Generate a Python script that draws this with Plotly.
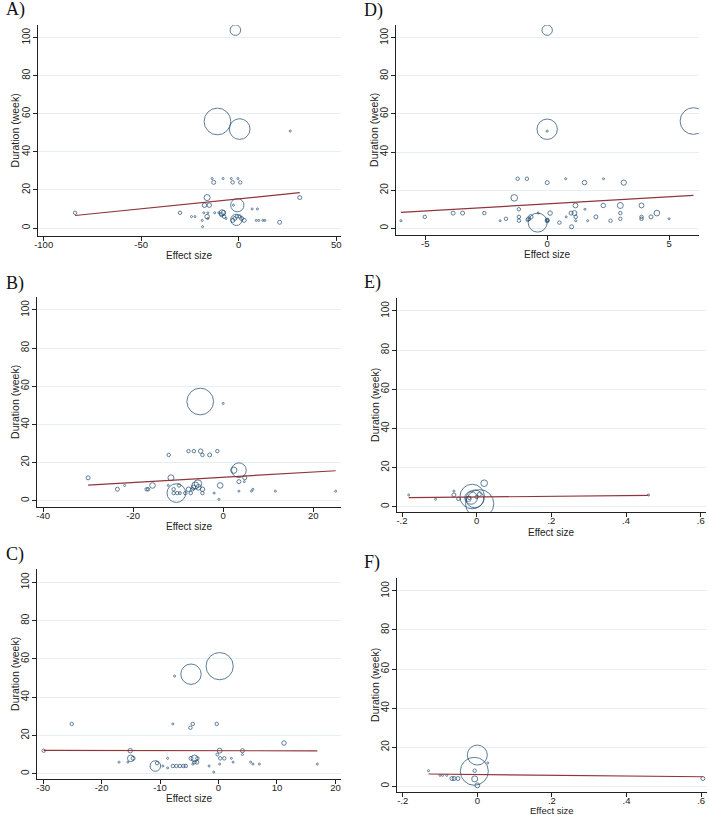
import numpy as np
import plotly.graph_objects as go

# ---------------- data ----------------
# Panel A
a_x = [-1.7, -10.9, 0.5, 26.4, -13.6, -8.0, -3.8, -0.4, -12.8, -3.1, 0.8, -16.2, 31.3,
       -17.5, -15.1, -2.7, -0.7, 6.9, 9.6, -83.9, -30.1, -17.9, -15.8, -12.3, -10.2,
       -8.5, -7.8, -8.8, -7.5, -6.5, -16.2, -24.2, -22.4, -18.7, -18.5, -15.8,
       -3.0, -2.0, 1.5, 2.8, -1.0, 0.5, -1.2, 9.0, 10.3, 12.4, 13.4, 21.0]
a_y = [104, 56, 52, 51, 26, 26, 26, 26, 24, 24, 24, 16, 16,
       12, 12, 12, 12, 10, 10, 8, 8, 8, 8, 8, 8,
       8, 8, 7, 6, 5, 6, 6, 6, 4, 0.7, 5,
       4, 5, 5, 4, 6, 6, 4.3, 4, 4, 4, 4, 3]
a_w = [28, 178, 107, 1, 1, 1, 1, 1, 4, 3, 3, 9, 4,
       5, 5, 1, 44, 1, 1, 3, 3, 1, 1, 1, 1,
       9, 5, 4, 3, 1, 5, 1, 1, 1, 1, 1,
       4, 4, 4, 4, 3, 3, 32, 1, 1, 1, 1, 4]
a_fit = [15.3, 0.104]          # intercept, slope

# Panel D
d_x = [0.0, 0.0, 0.0, 6.0, -6.0, -5.02, -3.86, -3.47, -2.58, -1.93, -1.69, -1.21, -0.83,
       -1.35, -1.16, -1.16, -1.16, -0.76, -0.67, -0.8, -0.39, -0.37, 0.0, 0.0, 0.0, 0.02,
       0.12, 0.5, 0.76, 0.78, 0.98, 1.12, 1.0, 1.16, 1.17, 1.17, 1.53, 1.55, 1.66, 2.0,
       2.31, 2.3, 2.6, 3.0, 3.14, 3.0, 3.0, 3.87, 3.87, 3.87, 4.26, 4.5, 5.0]
d_y = [104, 52, 51, 56.3, 4, 6, 8, 8, 8, 4, 5, 26, 26,
       16, 10, 6, 4, 5, 6, 4.5, 3, 8, 24, 4, 4.5, 4,
       8, 3, 26, 6, 8, 8, 0.8, 12, 6, 4, 24, 10, 4, 6,
       26, 12, 4, 12, 24, 8, 5, 12, 6, 5, 6, 8, 5]
d_w = [27, 104, 1, 178, 1, 3, 4, 4, 3, 1, 3, 3, 3,
       11, 3, 3, 3, 4, 5, 3, 90, 1, 4, 4, 3, 2,
       5, 3, 1, 1, 4, 6, 4, 6, 3, 1, 5, 1, 1, 4,
       1, 5, 3, 9, 7, 3, 3, 6, 3, 3, 4, 8, 1]
d_fit = [12.84, 0.744]

# Panel B
b_x = [-5.1, 0.0, -30.0, -23.5, -21.9, -17.0, -16.7, -15.7, -12.1, -12.2, -11.6, -11.0,
       -11.0, -10.2, -9.6, -9.8, -10.4, -7.7, -6.5, -5.0, -4.6, -3.0, -1.3,
       -7.7, -8.4, -7.2, -6.8, -6.2, -5.6, -5.5, -6.6, -4.6, -4.6, -2.0, -0.66, -0.95,
       2.36, 3.5, 3.5, 4.8, 4.7, 3.5, 6.3, 6.6, 11.6, 25.0]
b_y = [52, 51, 12, 6, 8, 6, 6, 8, 24, 8, 12, 6,
       4, 4, 4, 8, 4, 26, 26, 26, 24, 24, 26,
       6, 4, 4, 6, 8, 9, 7, 7, 6, 4, 4, 8, 0.7,
       16, 16, 10, 12, 10, 5, 5, 6, 5, 5]
b_w = [178, 1, 4, 4, 1, 3, 3, 8, 3, 1, 9, 3,
       3, 3, 2, 3, 87, 3, 3, 5, 3, 4, 3,
       5, 3, 3, 3, 12, 14, 8, 5, 5, 3, 1, 8, 1,
       10, 54, 4, 4, 1, 1, 1, 1, 1, 1]
b_fit = [12.3, 0.136]

# Panel C
c_x = [0.2, -4.7, -7.5, -29.9, -25.1, -17.0, -15.5, -15.1, -15.0, -14.6, -10.8, -10.5,
       -9.5, -8.7, -8.7, -7.8, -7.8, -7.2, -6.6, -6.0, -5.6, -4.8, -4.4, -4.7, -4.1,
       -4.4, -4.1, -3.7, -3.6, -1.6, -0.8, -0.3, -0.2, 0.2, 0.2, 0.3, 1.0, 2.2, 2.5,
       4.1, 4.1, 5.5, 5.9, 7.0, 11.2, 16.9]
c_y = [56.2, 52, 51, 12, 26, 6, 6, 12, 8, 8, 4, 5.5,
       4, 8, 3, 26, 4, 4, 4, 4, 4, 24, 26, 8, 8,
       5, 6, 6, 8, 4, 0.8, 26, 10, 12, 5, 8, 8, 8, 6,
       12, 10, 6, 5, 5, 16, 5]
c_w = [185, 104, 1, 3, 3, 1, 1, 5, 11, 4, 28, 3,
       1, 1, 1, 1, 3, 3, 3, 3, 3, 3, 3, 4, 11,
       1, 3, 4, 3, 1, 1, 3, 2, 6, 1, 3, 3, 1, 1,
       4, 1, 1, 1, 1, 5, 1]
c_fit = [12.0, -0.004]

# Panel E
e_x = [-0.182, -0.11, -0.061, -0.061, -0.049, -0.022, -0.02, -0.012, 0.008, -0.005,
       -0.015, 0.02, 0.007, 0.0, 0.46]
e_y = [6, 3.8, 8, 6, 4, 4, 4.5, 5.2, 1.5, 4.0, 4.5, 12, 6.3, 5, 6]
e_w = [1, 1, 1, 4, 3, 7, 3, 150, 200, 80, 40, 11, 4, 3, 1]
e_fit = [4.94, 1.875]

# Panel F
f_x = [0.0, -0.008, 0.028, -0.007, -0.007, 0.0, -0.068, -0.062, -0.052, -0.131,
       -0.10, -0.093, -0.082, 0.605]
f_y = [16, 7.7, 12, 8, 3.8, 0.5, 4, 4, 4, 8, 5.6, 5.6, 5.6, 4]
f_w = [100, 196, 1, 3, 9, 6, 4, 4, 4, 1, 1, 1, 1, 4]
f_fit = [6.05, -1.9]

ab_ticks = {"A": [-100, -50, 0, 50], "D": [-5, 0, 5], "B": [-40, -20, 0, 20],
            "C": [-30, -20, -10, 0, 10, 20], "E": [-0.2, 0, 0.2, 0.4, 0.6],
            "F": [-0.2, 0, 0.2, 0.4, 0.6]}
small_tick_text = ["-.2", "0", ".2", ".4", ".6"]
y_ticks = [0, 20, 40, 60, 80, 100]

# ---------------- layout constants ----------------
W, H = 709, 815
# plot-area boxes in pixels: left, right, top, bottom
boxes = {"A": (34, 339, 25, 236), "D": (394, 699, 25, 235),
         "B": (33, 339, 297, 507), "E": (395, 706, 298, 512),
         "C": (33, 339, 569, 779), "F": (395, 707, 578, 792)}
xranges = {"A": [-103, 52.5], "D": [-6.21, 6.23], "B": [-41.4, 26.2],
           "C": [-31.07, 20.97], "E": [-0.214, 0.614], "F": [-0.216, 0.616]}
yranges = {"A": [-4.2, 106.7], "D": [-3.5, 106.7], "B": [-3.3, 106.8],
           "C": [-2.8, 107.0], "E": [-2.7, 106.6], "F": [-2.9, 106.6]}
label_pos = {"A": (0, 9), "D": (360, 10), "B": (0, 283), "E": (360, 282),
             "C": (0, 554), "F": (360, 562)}
xtitle_gap = {"A": 19.5, "D": 20, "B": 19.5, "E": 20, "C": 19.5, "F": 18.5}

NAVY = "#1a476f"
MAROON = "#90353b"
FONT = "Liberation Sans Narrow, Arial Narrow, Liberation Sans, Arial, sans-serif"

panels = [("A", a_x, a_y, a_w, a_fit), ("D", d_x, d_y, d_w, d_fit),
          ("B", b_x, b_y, b_w, b_fit), ("E", e_x, e_y, e_w, e_fit),
          ("C", c_x, c_y, c_w, c_fit), ("F", f_x, f_y, f_w, f_fit)]

fig = go.Figure()
annotations = []
layout_axes = {}

for i, (name, xs, ys, ws, fit) in enumerate(panels, start=1):
    xa = "x" if i == 1 else f"x{i}"
    ya = "y" if i == 1 else f"y{i}"
    fig.add_trace(go.Scatter(
        x=xs, y=ys, mode="markers", xaxis=xa, yaxis=ya, showlegend=False,
        marker=dict(size=ws, sizemode="area", sizeref=0.5, sizemin=1,
                    color="rgba(0,0,0,0)", line=dict(color=NAVY, width=1)),
        hoverinfo="x+y"))
    xl = np.array([min(xs), max(xs)])
    fig.add_trace(go.Scatter(
        x=xl, y=fit[0] + fit[1] * xl, mode="lines", xaxis=xa, yaxis=ya,
        showlegend=False, line=dict(color=MAROON, width=1.2)))

    l, r, t, b = boxes[name]
    xkey = "xaxis" if i == 1 else f"xaxis{i}"
    ykey = "yaxis" if i == 1 else f"yaxis{i}"
    ticks = ab_ticks[name]
    xaxis = dict(domain=[l / W, r / W], range=xranges[name], anchor=ya,
                 tickmode="array", tickvals=ticks,
                 showgrid=False, zeroline=False, showline=True, linecolor="#222",
                 linewidth=1, ticks="outside", ticklen=4, tickcolor="#222",
                 ticklabelstandoff=-4,
                 tickfont=dict(family=FONT, size=9.5, color="#222"))
    if name in ("E", "F"):
        xaxis["ticktext"] = small_tick_text
    else:
        xaxis["ticktext"] = [str(v) for v in ticks]
    yaxis = dict(domain=[1 - b / H, 1 - t / H], range=yranges[name], anchor=xa,
                 tickmode="array", tickvals=y_ticks, tickangle=-90,
                 showgrid=True, gridcolor="#e6eff1", gridwidth=1,
                 zeroline=False, showline=True, linecolor="#222", linewidth=1,
                 ticks="outside", ticklen=4, tickcolor="#222",
                 ticklabelstandoff=-1,
                 tickfont=dict(family=FONT, size=10, color="#222"))
    layout_axes[xkey] = xaxis
    layout_axes[ykey] = yaxis

    # axis titles
    annotations.append(dict(text="Effect size", xref="paper", yref="paper",
                            x=(l + r) / 2 / W, y=1 - (b + xtitle_gap[name]) / H,
                            xanchor="center", yanchor="middle", showarrow=False,
                            font=dict(family=FONT, size=9.5 if name == "F" else 10,
                                      color="#222")))
    annotations.append(dict(text="Duration (week)", xref="paper", yref="paper",
                            x=(l - 22) / W, y=1 - (t + b) / 2 / H, textangle=-90,
                            xanchor="center", yanchor="middle", showarrow=False,
                            font=dict(family=FONT, size=10.5, color="#222")))
    lx, ly = label_pos[name]
    annotations.append(dict(text=name + ")", xref="paper", yref="paper",
                            x=lx / W, y=1 - ly / H, xanchor="left", yanchor="middle",
                            showarrow=False,
                            font=dict(family="Liberation Serif, Times New Roman, serif",
                                      size=18, color="#111")))

fig.update_layout(width=W, height=H, margin=dict(l=0, r=0, t=0, b=0),
                  paper_bgcolor="white", plot_bgcolor="white",
                  annotations=annotations, **layout_axes)

fig.write_html("out.html")
